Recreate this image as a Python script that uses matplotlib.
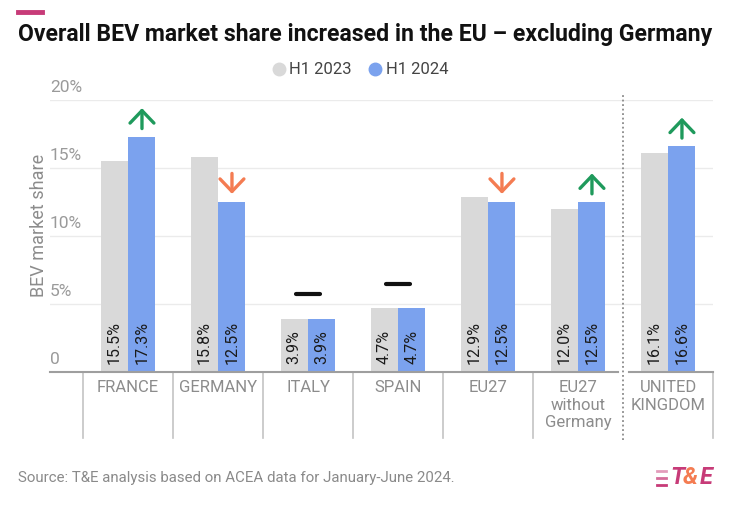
import numpy as np
import matplotlib
matplotlib.use('Agg')
from matplotlib import pyplot as plt
import matplotlib.transforms as mtransforms

plt.rcParams['font.family'] = ['Roboto', 'DejaVu Sans']

# data
categories = ['FRANCE', 'GERMANY', 'ITALY', 'SPAIN', 'EU27', 'EU27\nwithout\nGermany', 'UNITED\nKINGDOM']
h1_2023 = [15.5, 15.8, 3.9, 4.7, 12.9, 12.0, 16.1]
h1_2024 = [17.3, 12.5, 3.9, 4.7, 12.5, 12.5, 16.6]
trend = ['up', 'down', 'flat', 'flat', 'down', 'up', 'up']
yticks = [0, 5, 10, 15, 20]
ytick_labels = ['0', '5%', '10%', '15%', '20%']

grey_bar = '#d9d9d9'
blue_bar = '#7ba2ee'
green = '#1f9a5c'
orange = '#f47c52'
pink = '#c73b78'

fig = plt.figure(figsize=(7.54, 5.21), dpi=100)
ax = fig.add_axes([50 / 754, 1 - 372 / 521, 663 / 754, 272 / 521])

x = np.arange(len(categories))
w = 0.3
ax.bar(x - 0.155, h1_2023, w, color=grey_bar, zorder=3)
ax.bar(x + 0.155, h1_2024, w, color=blue_bar, zorder=3)

ax.set_xlim(-0.867, 6.5)
ax.set_ylim(0, 20)
for s in ax.spines.values():
    s.set_visible(False)
ax.set_xticks([])
ax.set_yticks([])

# gridlines + y labels
for v, lab in zip(yticks, ytick_labels):
    if v > 0:
        ax.axhline(v, color='#ebebeb', lw=1, zorder=1)
    ax.text(-0.867, v + 0.35, lab, ha='left', va='bottom', fontsize=12.5, color='#9a9a9a')

ax.text(-0.99, 10.8, 'BEV market share', rotation=90, ha='center', va='center',
        fontsize=13, color='#8c8c8c')

# baseline (with gap around dotted line)
ax.plot([-0.867, 5.44], [0, 0], color='#9e9e9e', lw=1.5, clip_on=False, zorder=4)
ax.plot([5.57, 6.5], [0, 0], color='#9e9e9e', lw=1.5, clip_on=False, zorder=4)

# separators below axis
trans = mtransforms.blended_transform_factory(ax.transData, ax.transAxes)
for sx in [-0.5, 0.5, 1.5, 2.5, 3.5, 4.5, 6.5]:
    ax.plot([sx, sx], [0, -0.243], color='#c4c4c4', lw=1.2, transform=trans, clip_on=False)
ax.plot([5.5, 5.5], [-0.25, 1.025], color='#8a8a8a', lw=1.3, ls=(0, (1, 1.5)),
        transform=trans, clip_on=False)

# category labels
for i, c in enumerate(categories):
    ax.text(i, -0.03, c, transform=trans, ha='center', va='top', fontsize=12,
            color='#8c8c8c', linespacing=1.2)

# value labels
for i in range(len(categories)):
    ax.text(i - 0.155, 0.6, f'{h1_2023[i]:.1f}%', rotation=90, ha='center', va='bottom',
            fontsize=11.5, color='#1a1a1a', zorder=5)
    ax.text(i + 0.155, 0.6, f'{h1_2024[i]:.1f}%', rotation=90, ha='center', va='bottom',
            fontsize=11.5, color='#1a1a1a', zorder=5)

# trend markers
astyle = '->,head_length=0.45,head_width=0.43'
for i, t in enumerate(trend):
    top = h1_2024[i]
    if t == 'up':
        ax.annotate('', xy=(i + 0.155, top + 2.1), xytext=(i + 0.155, top + 0.6),
                    arrowprops=dict(arrowstyle=astyle, lw=2.4, color=green, mutation_scale=20,
                                    shrinkA=0, shrinkB=0), annotation_clip=False)
    elif t == 'down':
        ax.annotate('', xy=(i + 0.155, top + 0.6), xytext=(i + 0.155, top + 2.1),
                    arrowprops=dict(arrowstyle=astyle, lw=2.4, color=orange, mutation_scale=20,
                                    shrinkA=0, shrinkB=0), annotation_clip=False)
    else:
        ax.plot([i - 0.13, i + 0.13], [top + 1.8, top + 1.8], color='#111111', lw=3,
                solid_capstyle='round')

# title, accent bar, legend
fig.add_artist(plt.Line2D([18 / 754, 42 / 754], [1 - 12 / 521, 1 - 12 / 521], color=pink, lw=3.5))
fig.text(18 / 754, 1 - 35 / 521, 'Overall BEV market share increased in the EU \u2013 excluding Germany',
         ha='left', va='center', fontsize=16.6, fontweight='bold', color='#111111')

ly = 1 - 69 / 521
fig.add_artist(plt.Line2D([279 / 754], [ly], marker='o', markersize=9, color=grey_bar, lw=0))
fig.text(289 / 754, ly, 'H1 2023', ha='left', va='center', fontsize=12, color='#444444')
fig.add_artist(plt.Line2D([375 / 754], [ly], marker='o', markersize=9, color=blue_bar, lw=0))
fig.text(386 / 754, ly, 'H1 2024', ha='left', va='center', fontsize=12, color='#444444')

# source
fig.text(18 / 754, 1 - 478 / 521, 'Source: T&E analysis based on ACEA data for January-June 2024.',
         ha='left', va='center', fontsize=10.8, color='#8a8a8a')

# logo
for k, (yy, a) in enumerate([(471, 0.5), (478, 0.75), (485, 1.0)]):
    fig.add_artist(plt.Line2D([657 / 754, 666 / 754], [1 - yy / 521, 1 - yy / 521],
                              color=pink, lw=2, alpha=a))
fig.text(670 / 754, 1 - 478 / 521, 'T', ha='left', va='center', fontsize=17,
         fontweight='bold', style='italic', color=pink)
fig.text(683 / 754, 1 - 478 / 521, '&', ha='left', va='center', fontsize=17,
         fontweight='bold', style='italic', color=orange)
fig.text(700 / 754, 1 - 478 / 521, 'E', ha='left', va='center', fontsize=17,
         fontweight='bold', style='italic', color=pink)

fig.savefig('out.png', dpi=100, facecolor='white')
